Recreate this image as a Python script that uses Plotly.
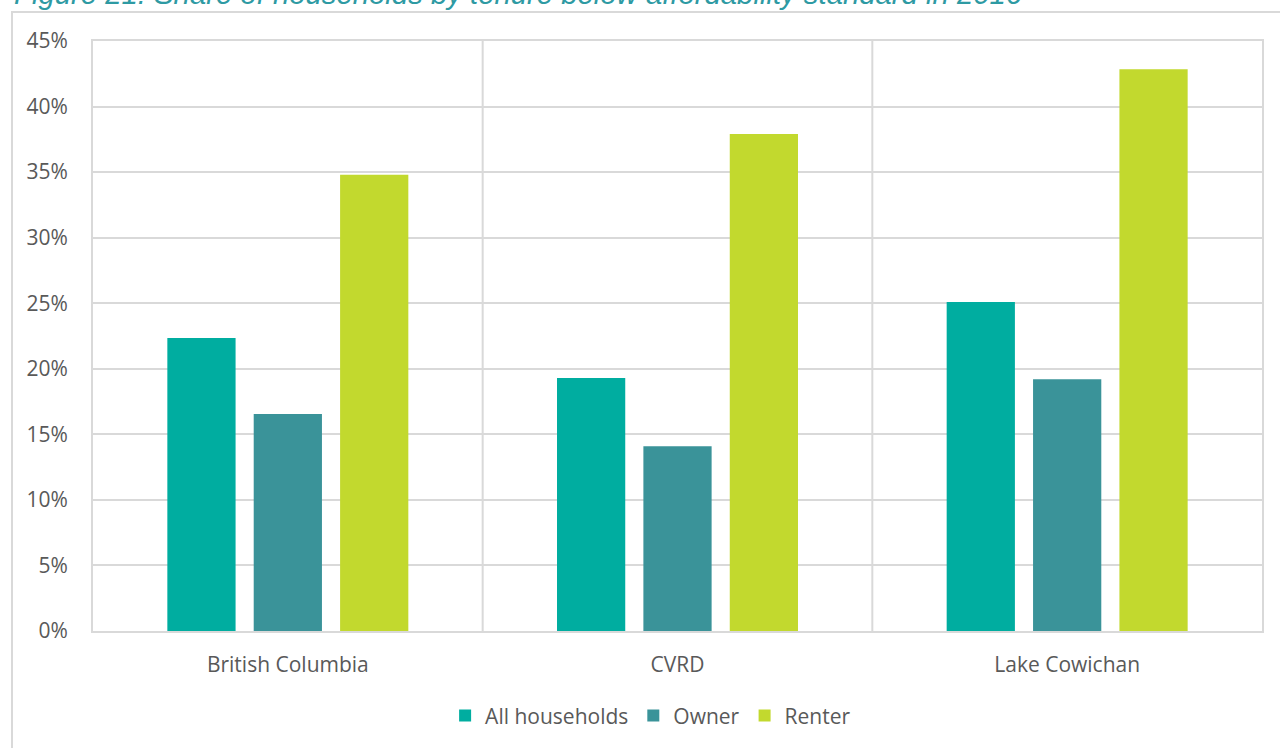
import plotly.graph_objects as go

categories = ["British Columbia", "CVRD", "Lake Cowichan"]
all_households = [22.35, 19.3, 25.1]
owner = [16.55, 14.1, 19.2]
renter = [34.8, 37.9, 42.85]
series_names = ["All households", "Owner", "Renter"]
series_colors = ["#00ADA0", "#3A9399", "#C2D92E"]
y_ticks = [0, 5, 10, 15, 20, 25, 30, 35, 40, 45]
y_tick_labels = [f"{v}%" for v in y_ticks]
title_text = "Figure 21: Share of households by tenure below affordability standard in 2016"

fig = go.Figure()
for name, vals, col in zip(series_names, [all_households, owner, renter], series_colors):
    fig.add_trace(go.Bar(x=categories, y=vals, name=name, marker=dict(color=col, line=dict(width=0))))

grid = "#D9D9D9"
txt = "#595959"
font_family = "Open Sans"

fig.update_layout(
    width=1280, height=748,
    margin=dict(l=93, r=18, t=41, b=117),
    paper_bgcolor="white", plot_bgcolor="white",
    barmode="group", bargap=0.335, bargroupgap=0.21,
    font=dict(family=font_family, color=txt, size=21),
    showlegend=True,
    legend=dict(orientation="h", x=0.477, xanchor="center", y=-0.144, yanchor="middle",
                font=dict(size=21, color=txt, family=font_family), itemwidth=30,
                bgcolor="rgba(0,0,0,0)"),
    xaxis=dict(type="category", range=[-0.5, 2.5], showgrid=False, showline=True,
               linecolor=grid, linewidth=2, mirror=True, ticks="", ticklabelstandoff=14,
               tickfont=dict(size=21, color=txt, family=font_family), zeroline=False),
    yaxis=dict(range=[0, 45], tickvals=y_ticks, ticktext=y_tick_labels, showgrid=True,
               gridcolor=grid, gridwidth=2, showline=True, linecolor=grid, linewidth=2,
               mirror=True, ticks="", ticklabelstandoff=19, zeroline=False,
               tickfont=dict(size=21, color=txt, family=font_family)),
)

# category separators
for xv in [0.5, 1.5]:
    fig.add_shape(type="line", xref="x", yref="paper", x0=xv, x1=xv, y0=0, y1=1,
                  line=dict(color=grid, width=2), layer="below")

# outer chart border
fig.add_shape(type="rect", xref="paper", yref="paper", x0=-0.0693, x1=1.03, y0=-0.23, y1=1.0492,
              line=dict(color=grid, width=2), fillcolor="rgba(0,0,0,0)", layer="below")

fig.add_annotation(text=title_text, xref="paper", yref="paper", x=-0.0693, xanchor="left",
                   y=1.081, yanchor="middle", showarrow=False,
                   font=dict(family="Liberation Sans", size=29.3, color="#2E9AA3", style="italic"))

fig.write_html("out.html", config={"displayModeBar": False},
               post_script="document.body.style.margin='0';")
